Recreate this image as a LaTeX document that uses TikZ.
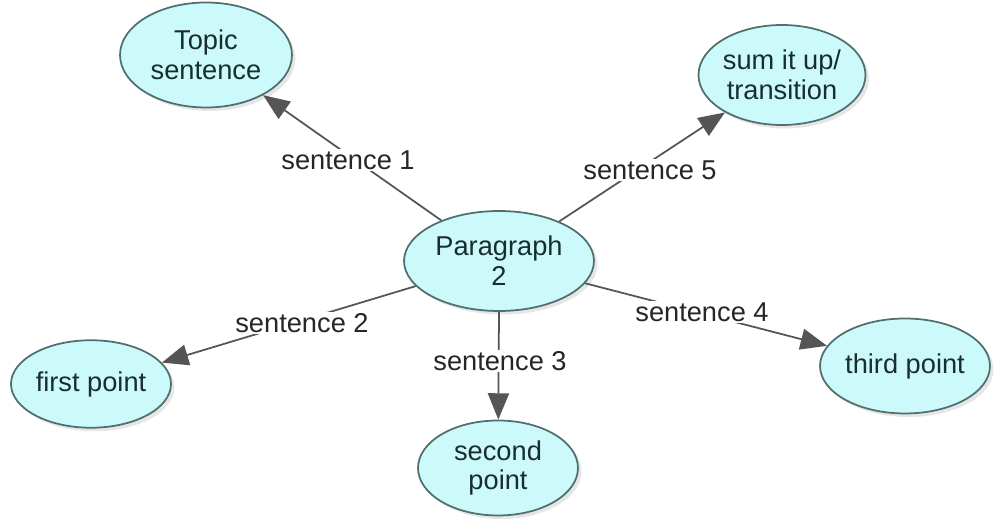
\documentclass[tikz,border=0pt]{standalone}
\usepackage{fontspec}
\setmainfont{Liberation Sans}
\usetikzlibrary{arrows.meta,shapes.geometric,shadows}
\definecolor{bubble}{RGB}{204,250,250}
\definecolor{rim}{RGB}{80,112,112}
\definecolor{ink}{RGB}{25,45,45}
\definecolor{wire}{RGB}{85,85,85}
\tikzset{
    topic/.style={ellipse, draw=rim, line width=1pt, fill=bubble, text=ink,
        align=center, inner sep=0pt, font=\fontsize{15.5}{17}\selectfont,
        drop shadow={opacity=0.2, shadow xshift=2pt, shadow yshift=-2pt}},
    link/.style={draw=wire, line width=1pt, -{Triangle[length=15pt,width=12pt]}},
    lbl/.style={fill=white, inner sep=1pt, text=black!85, font=\fontsize{15.5}{17}\selectfont}
}
\begin{document}
\begin{tikzpicture}[x=0.02cm,y=-0.02cm]
        \useasboundingbox (0,0) rectangle (998,519);

        \node[topic, minimum width=3.44cm, minimum height=2.1cm] (topicsent) at (206, 55) {Topic\\sentence};
        \node[topic, minimum width=3.0cm, minimum height=2.0cm] (sumup) at (782, 75) {sum it up/\\transition};
        \node[topic, minimum width=3.8cm, minimum height=2.0cm] (para) at (499, 261) {Paragraph\\2};
        \node[topic, minimum width=3.2cm, minimum height=1.75cm] (first) at (91, 384) {first point};
        \node[topic, minimum width=3.2cm, minimum height=1.9cm] (second) at (498, 468) {second\\point};
        \node[topic, minimum width=3.4cm, minimum height=1.9cm] (third) at (905, 366) {third point};

        \draw[link] (para) -- (topicsent);
        \draw[link] (para) -- (sumup);
        \draw[link] (para) -- (first);
        \draw[link] (para.south) -- (second);
        \draw[link] (para) -- (third);

        \node[lbl] (s1) at (348, 160) {sentence 1};
        \node[lbl] (s2) at (302, 323) {sentence 2};
        \node[lbl] (s3) at (500, 361) {sentence 3};
        \node[lbl] (s4) at (702, 312) {sentence 4};
        \node[lbl] (s5) at (650, 170) {sentence 5};

    \end{tikzpicture}
\end{document}
